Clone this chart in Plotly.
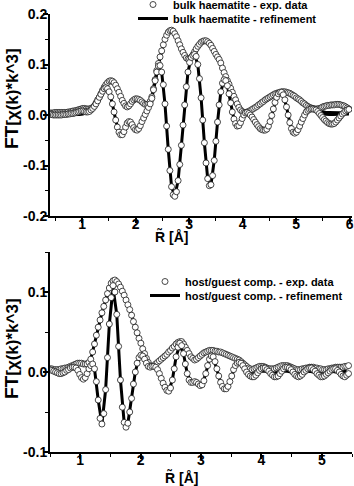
import numpy as np
import plotly.graph_objects as go

# ---------------- data ----------------
R_STEP = 0.0307          # FT grid spacing (Angstrom)
TOP_R0 = 0.40
BOT_R0 = 0.50

# bulk haematite - experimental |FT| and Im(FT)
top_exp_mag = [
    0.004, 0.004, 0.004, 0.005, 0.005, 0.005, 0.005, 0.005, 0.005, 0.005,
    0.005, 0.006, 0.006, 0.007, 0.008, 0.008, 0.009, 0.010, 0.011, 0.012,
    0.013, 0.013, 0.012, 0.012, 0.012, 0.013, 0.015, 0.018, 0.024, 0.030,
    0.035, 0.042, 0.049, 0.055, 0.060, 0.064, 0.067, 0.068, 0.067, 0.064,
    0.059, 0.052, 0.045, 0.037, 0.029, 0.023, 0.018, 0.016, 0.018, 0.022,
    0.027, 0.030, 0.032, 0.032, 0.031, 0.029, 0.026, 0.023, 0.021, 0.021,
    0.022, 0.027, 0.036, 0.052, 0.070, 0.088, 0.102, 0.115, 0.127, 0.139,
    0.150, 0.158, 0.164, 0.167, 0.168, 0.166, 0.161, 0.155, 0.147, 0.139,
    0.131, 0.124, 0.118, 0.113, 0.111, 0.111, 0.114, 0.119, 0.125, 0.131,
    0.136, 0.140, 0.144, 0.146, 0.147, 0.147, 0.145, 0.142, 0.138, 0.132,
    0.126, 0.120, 0.115, 0.110, 0.103, 0.093, 0.084, 0.076, 0.068, 0.061,
    0.053, 0.045, 0.037, 0.030, 0.022, 0.015, 0.010, 0.007, 0.005, 0.005,
    0.006, 0.007, 0.009, 0.011, 0.013, 0.015, 0.017, 0.020, 0.022, 0.025,
    0.027, 0.030, 0.032, 0.034, 0.036, 0.038, 0.040, 0.042, 0.043, 0.044,
    0.045, 0.046, 0.046, 0.046, 0.045, 0.044, 0.043, 0.041, 0.039, 0.037,
    0.034, 0.032, 0.030, 0.027, 0.024, 0.022, 0.019, 0.017, 0.015, 0.014,
    0.013, 0.012, 0.012, 0.012, 0.013, 0.014, 0.016, 0.017, 0.018, 0.019,
    0.019, 0.020, 0.020, 0.020, 0.021, 0.021, 0.021, 0.020, 0.019, 0.018,
    0.016, 0.014, 0.012,
]
top_exp_im = [
    0.001, 0.001, 0.000, 0.000, 0.000, 0.000, 0.000, 0.000, 0.001, 0.001,
    0.001, 0.002, 0.002, 0.003, 0.003, 0.004, 0.005, 0.006, 0.007, 0.008,
    0.008, 0.007, 0.006, 0.006, 0.007, 0.010, 0.013, 0.017, 0.022, 0.028,
    0.035, 0.041, 0.047, 0.052, 0.054, 0.052, 0.046, 0.036, 0.022, 0.006,
    -0.010, -0.024, -0.034, -0.039, -0.039, -0.033, -0.024, -0.016, -0.013, -0.014,
    -0.019, -0.025, -0.029, -0.030, -0.027, -0.021, -0.013, -0.006, 0.001, 0.008,
    0.015, 0.022, 0.033, 0.050, 0.068, 0.085, 0.097, 0.098, 0.085, 0.060,
    0.022, -0.022, -0.068, -0.110, -0.142, -0.158, -0.161, -0.152, -0.130, -0.098,
    -0.060, -0.020, 0.020, 0.056, 0.085, 0.104, 0.114, 0.118, 0.120, 0.116,
    0.100, 0.072, 0.034, -0.010, -0.055, -0.095, -0.126, -0.140, -0.138, -0.120,
    -0.090, -0.052, -0.014, 0.020, 0.046, 0.063, 0.070, 0.068, 0.058, 0.042,
    0.024, 0.006, -0.008, -0.017, -0.022, -0.021, -0.015, -0.007, 0.000, 0.004,
    0.005, 0.003, 0.000, -0.004, -0.009, -0.014, -0.019, -0.023, -0.027, -0.029,
    -0.030, -0.030, -0.028, -0.022, -0.013, -0.001, 0.012, 0.025, 0.035, 0.042,
    0.045, 0.045, 0.040, 0.030, 0.016, 0.000, -0.015, -0.027, -0.034, -0.036,
    -0.034, -0.029, -0.022, -0.014, -0.007, 0.000, 0.006, 0.009, 0.011, 0.012,
    0.012, 0.011, 0.010, 0.007, 0.003, -0.001, -0.005, -0.009, -0.012, -0.015,
    -0.017, -0.018, -0.018, -0.017, -0.014, -0.010, -0.006, -0.002, 0.002, 0.005,
    0.008, 0.010, 0.011,
]
# bulk haematite - refinement (sampled every 2nd grid point)
top_fit_mag = [
    0.002, 0.002, 0.002, 0.002, 0.002, 0.002, 0.003, 0.003, 0.003, 0.004,
    0.005, 0.007, 0.010, 0.015, 0.024, 0.035, 0.049, 0.060, 0.067, 0.067,
    0.059, 0.045, 0.029, 0.018, 0.018, 0.027, 0.032, 0.031, 0.026, 0.021,
    0.022, 0.036, 0.070, 0.102, 0.127, 0.150, 0.164, 0.168, 0.161, 0.147,
    0.131, 0.118, 0.111, 0.114, 0.125, 0.136, 0.144, 0.147, 0.145, 0.138,
    0.126, 0.115, 0.103, 0.084, 0.068, 0.053, 0.037, 0.022, 0.010, 0.005,
    0.006, 0.009, 0.013, 0.017, 0.022, 0.027, 0.032, 0.036, 0.040, 0.043,
    0.045, 0.046, 0.045, 0.043, 0.039, 0.034, 0.030, 0.024, 0.019, 0.015,
    0.012, 0.010, 0.008, 0.006, 0.005, 0.005, 0.005, 0.005, 0.005, 0.005,
    0.004, 0.004,
]
top_fit_im = [
    0.000, 0.000, 0.000, 0.000, 0.000, 0.000, 0.000, 0.001, 0.001, 0.001,
    0.002, 0.004, 0.007, 0.013, 0.022, 0.035, 0.047, 0.054, 0.046, 0.022,
    -0.010, -0.034, -0.039, -0.024, -0.013, -0.019, -0.029, -0.027, -0.013, 0.001,
    0.015, 0.033, 0.068, 0.097, 0.085, 0.022, -0.068, -0.142, -0.161, -0.130,
    -0.060, 0.020, 0.085, 0.114, 0.120, 0.100, 0.034, -0.055, -0.126, -0.138,
    -0.090, -0.014, 0.046, 0.070, 0.058, 0.024, -0.008, -0.022, -0.015, 0.000,
    0.005, 0.000, -0.009, -0.019, -0.027, -0.030, -0.028, -0.013, 0.012, 0.035,
    0.045, 0.040, 0.016, -0.015, -0.034, -0.034, -0.022, -0.007, 0.006, 0.011,
    0.012, 0.008, 0.004, 0.002, 0.001, 0.001, 0.001, 0.001, 0.002, 0.002,
    0.002, 0.002,
]

# host/guest compound - experimental |FT| and Im(FT)
bot_exp_mag = [
    0.004, 0.004, 0.003, 0.003, 0.003, 0.003, 0.004, 0.004, 0.005, 0.005,
    0.006, 0.007, 0.008, 0.009, 0.010, 0.011, 0.011, 0.011, 0.010, 0.010,
    0.010, 0.012, 0.016, 0.025, 0.035, 0.046, 0.056, 0.065, 0.074, 0.082,
    0.090, 0.098, 0.105, 0.111, 0.114, 0.115, 0.113, 0.110, 0.106, 0.101,
    0.096, 0.090, 0.084, 0.078, 0.071, 0.063, 0.056, 0.049, 0.042, 0.036,
    0.029, 0.023, 0.017, 0.012, 0.008, 0.007, 0.008, 0.010, 0.012, 0.014,
    0.016, 0.018, 0.020, 0.022, 0.025, 0.027, 0.030, 0.032, 0.035, 0.037,
    0.038, 0.038, 0.035, 0.031, 0.027, 0.023, 0.019, 0.017, 0.015, 0.016,
    0.018, 0.020, 0.022, 0.024, 0.025, 0.026, 0.027, 0.027, 0.027, 0.026,
    0.026, 0.025, 0.025, 0.024, 0.023, 0.022, 0.021, 0.020, 0.019, 0.018,
    0.017, 0.016, 0.015, 0.013, 0.011, 0.009, 0.007, 0.005, 0.004, 0.003,
    0.004, 0.005, 0.006, 0.007, 0.007, 0.007, 0.006, 0.005, 0.004, 0.004,
    0.004, 0.004, 0.005, 0.006, 0.007, 0.008, 0.008, 0.008, 0.008, 0.007,
    0.006, 0.005, 0.004, 0.003, 0.003, 0.003, 0.004, 0.004, 0.005, 0.005,
    0.006, 0.006, 0.006, 0.005, 0.005, 0.004, 0.004, 0.003, 0.003, 0.003,
    0.004, 0.004, 0.005, 0.005, 0.006, 0.006, 0.006, 0.006, 0.006, 0.007,
    0.007, 0.008,
]
bot_exp_im = [
    0.003, 0.002, 0.001, 0.000, -0.001, -0.002, -0.002, -0.001, 0.000, 0.002,
    0.003, 0.005, 0.006, 0.006, 0.005, 0.002, -0.003, -0.007, -0.009, -0.007,
    -0.002, 0.004, 0.008, 0.010, 0.004, -0.012, -0.035, -0.058, -0.065, -0.052,
    -0.022, 0.018, 0.060, 0.093, 0.108, 0.100, 0.072, 0.032, -0.010, -0.044,
    -0.063, -0.069, -0.064, -0.050, -0.033, -0.015, 0.000, 0.011, 0.018, 0.021,
    0.020, 0.016, 0.011, 0.007, 0.006, 0.007, 0.007, 0.006, 0.003, -0.002,
    -0.008, -0.014, -0.019, -0.023, -0.024, -0.020, -0.010, 0.004, 0.019, 0.031,
    0.036, 0.033, 0.023, 0.010, -0.002, -0.010, -0.013, -0.013, -0.012, -0.013,
    -0.015, -0.017, -0.016, -0.011, -0.002, 0.008, 0.016, 0.020, 0.019, 0.013,
    0.004, -0.005, -0.013, -0.018, -0.021, -0.021, -0.018, -0.012, -0.005, 0.003,
    0.008, 0.011, 0.012, 0.011, 0.008, 0.004, 0.000, -0.003, -0.005, -0.006,
    -0.006, -0.004, -0.001, 0.002, 0.004, 0.005, 0.005, 0.003, 0.001, -0.002,
    -0.004, -0.006, -0.006, -0.005, -0.002, 0.001, 0.004, 0.006, 0.006, 0.005,
    0.003, 0.000, -0.003, -0.005, -0.006, -0.005, -0.003, 0.000, 0.002, 0.004,
    0.005, 0.005, 0.003, 0.001, -0.002, -0.004, -0.006, -0.006, -0.005, -0.003,
    -0.001, 0.001, 0.003, 0.004, 0.004, 0.002, 0.000, -0.003, -0.005, -0.006,
    -0.004, -0.002,
]
# host/guest compound - refinement (sampled every 2nd grid point)
bot_fit_mag = [
    0.004, 0.003, 0.003, 0.004, 0.005, 0.006, 0.008, 0.010, 0.011, 0.010,
    0.010, 0.016, 0.035, 0.056, 0.074, 0.090, 0.105, 0.114, 0.113, 0.106,
    0.096, 0.084, 0.071, 0.056, 0.042, 0.029, 0.017, 0.008, 0.008, 0.012,
    0.016, 0.020, 0.025, 0.030, 0.035, 0.038, 0.035, 0.027, 0.019, 0.015,
    0.018, 0.022, 0.025, 0.027, 0.027, 0.026, 0.025, 0.023, 0.021, 0.019,
    0.017, 0.015, 0.011, 0.007, 0.004, 0.003, 0.003, 0.003, 0.003, 0.002,
    0.002, 0.002, 0.002, 0.002, 0.002, 0.002, 0.002, 0.002, 0.002, 0.002,
    0.002, 0.002, 0.002, 0.002, 0.002, 0.002, 0.002, 0.002, 0.002, 0.002,
    0.002,
]
bot_fit_im = [
    0.003, 0.001, -0.001, -0.002, 0.000, 0.003, 0.006, 0.005, -0.003, -0.009,
    -0.002, 0.008, 0.004, -0.035, -0.065, -0.022, 0.060, 0.105, 0.072, -0.010,
    -0.063, -0.064, -0.033, 0.000, 0.018, 0.020, 0.011, 0.006, 0.007, 0.003,
    -0.008, -0.019, -0.024, -0.010, 0.019, 0.034, 0.023, -0.002, -0.013, -0.012,
    -0.015, -0.016, -0.002, 0.016, 0.019, 0.004, -0.013, -0.021, -0.018, -0.005,
    0.008, 0.012, 0.008, 0.002, -0.001, -0.001, 0.000, 0.001, 0.001, 0.000,
    -0.001, -0.001, 0.000, 0.001, 0.001, 0.000, -0.001, -0.001, 0.000, 0.000,
    0.001, 0.000, -0.001, -0.001, 0.000, 0.000, 0.001, 0.000, 0.000, -0.001,
    -0.001,
]

top_name_exp = "bulk haematite - exp. data"
top_name_fit = "bulk haematite - refinement"
bot_name_exp = "host/guest comp. - exp. data"
bot_name_fit = "host/guest comp. - refinement"
x_title = "R\u0303 [\u00c5]"
y_title = "FT<span style='font-size:17px'>[\u03c7(k)*k^3]</span>"

top_y_ticks = [-0.2, -0.1, 0.0, 0.1, 0.2]
top_y_ticklabels = ["-0.2", "-0.1", "0.0", "0.1", "0.2"]
bot_y_ticks = [-0.1, 0.0, 0.1]
bot_y_ticklabels = ["-0.1", "0.0", "0.1"]
top_x_ticks = [1, 2, 3, 4, 5, 6]
bot_x_ticks = [1, 2, 3, 4, 5]

# ---------------- grids ----------------
top_r = np.round(TOP_R0 + R_STEP * np.arange(len(top_exp_mag)), 4)
top_fit_r = np.round(TOP_R0 + 2 * R_STEP * np.arange(len(top_fit_mag)), 4)
bot_r = np.round(BOT_R0 + R_STEP * np.arange(len(bot_exp_mag)), 4)
bot_fit_r = np.round(BOT_R0 + 2 * R_STEP * np.arange(len(bot_fit_mag)), 4)

# ---------------- figure ----------------
W, H = 354, 486
FONT = "Liberation Sans, Arial, sans-serif"

fig = go.Figure()

marker = dict(symbol="circle", size=6, color="white",
              line=dict(color="#1a1a1a", width=0.8))
fitline = dict(color="black", width=3)


def add_panel(xa, ya, leg_exp, leg_fit, r, mag, im, fr, fmag, fim, nexp, nfit):
    for k, yy in enumerate([fmag, fim]):
        fig.add_trace(go.Scatter(x=fr, y=yy, mode="lines", line=fitline,
                                 name=nfit, legendgroup=leg_fit,
                                 showlegend=(k == 0), legend=leg_fit,
                                 xaxis=xa, yaxis=ya))
    for k, yy in enumerate([mag, im]):
        fig.add_trace(go.Scatter(x=r, y=yy, mode="markers", marker=marker,
                                 name=nexp, legendgroup=leg_exp,
                                 showlegend=(k == 0), legend=leg_exp,
                                 xaxis=xa, yaxis=ya))


add_panel("x", "y", "legend", "legend2", top_r, top_exp_mag, top_exp_im,
          top_fit_r, top_fit_mag, top_fit_im, top_name_exp, top_name_fit)
add_panel("x2", "y2", "legend3", "legend4", bot_r, bot_exp_mag, bot_exp_im,
          bot_fit_r, bot_fit_mag, bot_fit_im, bot_name_exp, bot_name_fit)

xdom = [50 / W, 352 / W]
top_dom = [(H - 216) / H, (H - 14) / H]
bot_dom = [(H - 452) / H, (H - 252) / H]

tickfont = dict(family=FONT, size=14, color="black", weight="bold")

common_x = dict(showline=True, linecolor="black", linewidth=2, mirror=False,
                automargin=False, ticklabelstandoff=-11,
                ticks="outside", ticklen=5, tickwidth=1.5, tickcolor="black",
                showgrid=False, zeroline=False, tickfont=tickfont,
                minor=dict(ticks="outside", ticklen=3, tickwidth=1,
                           tickcolor="black", dtick=0.5, showgrid=False))
common_y = dict(showline=True, linecolor="black", linewidth=2, mirror=False,
                automargin=False, ticklabelstandoff=-7,
                ticks="outside", ticklen=5, tickwidth=1.5, tickcolor="black",
                showgrid=False, zeroline=False, tickfont=tickfont,
                minor=dict(ticks="outside", ticklen=3, tickwidth=1,
                           tickcolor="black", dtick=0.05, showgrid=False))


def leg(x_px, y_top_px):
    return dict(x=x_px / W, xanchor="left", y=(H - y_top_px) / H,
                yanchor="top", bgcolor="rgba(0,0,0,0)", borderwidth=0,
                font=dict(family=FONT, size=11, color="black", weight="bold"),
                itemwidth=30)


def ann(text, x_px, y_px, size, angle=0):
    return dict(text=text, x=x_px / W, y=(H - y_px) / H, xref="paper",
                yref="paper", showarrow=False, textangle=angle,
                xanchor="center", yanchor="middle",
                font=dict(family=FONT, size=size, color="black", weight="bold"))


fig.update_layout(
    width=W, height=H,
    margin=dict(l=0, r=0, t=0, b=0, autoexpand=False),
    paper_bgcolor="white", plot_bgcolor="white",
    font=dict(family=FONT, color="black"),
    xaxis=dict(common_x, domain=xdom, anchor="y", range=[0.4, 6.045],
               tickvals=top_x_ticks),
    yaxis=dict(common_y, domain=top_dom, anchor="x", range=[-0.2, 0.2],
               tickvals=top_y_ticks, ticktext=top_y_ticklabels),
    xaxis2=dict(common_x, domain=xdom, anchor="y2", range=[0.5, 5.5],
                tickvals=bot_x_ticks),
    yaxis2=dict(common_y, domain=bot_dom, anchor="x2", range=[-0.1, 0.15],
                tickvals=bot_y_ticks, ticktext=bot_y_ticklabels),
    legend=leg(133, -10),
    legend2=leg(133, 4),
    legend3=leg(145, 267),
    legend4=leg(145, 281),
    annotations=[
        ann(x_title, 171, 237, 14),
        ann(x_title, 181, 477, 14),
        ann(y_title, 11, 99, 19, -90),
        ann(y_title, 11, 349, 19, -90),
    ],
    showlegend=True,
)

fig.write_html("out.html", config={"displayModeBar": False},
               post_script="document.body.style.margin='0';"
                           "document.body.style.overflow='hidden';")
